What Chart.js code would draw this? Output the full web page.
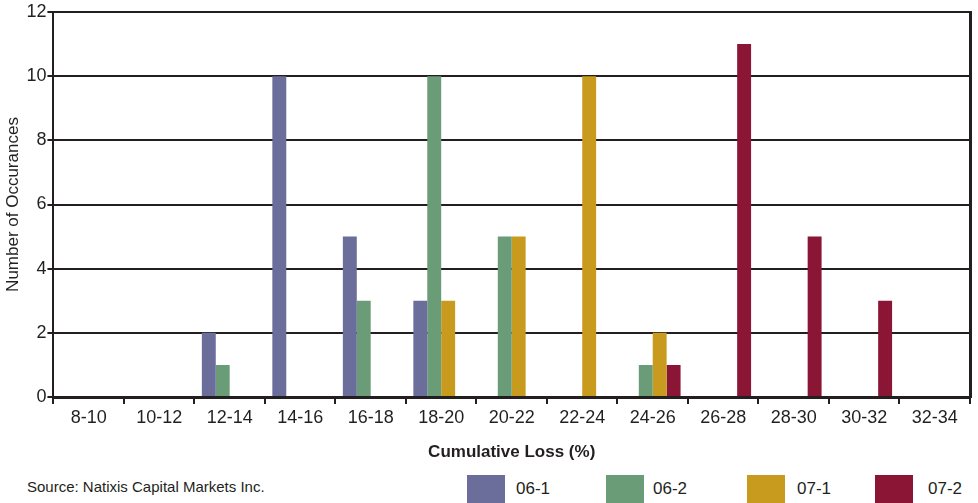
<!DOCTYPE html>
<html>
<head>
<meta charset="utf-8">
<script src="https://cdn.jsdelivr.net/npm/chart.js@4"></script>
<style>
  body { margin: 0; background: #fff; font-family: "Liberation Sans", Arial, sans-serif; }
  #wrap { position: relative; width: 978px; height: 503px; overflow: hidden; }
  #box { position: absolute; left: 0; top: 0; width: 978px; height: 465px; }
  .src { position: absolute; left: 27px; top: 478px; font-size: 15px; color: #231f20; }
  .leg { position: absolute; top: 475px; height: 28px; }
  .leg span.sw { position: absolute; left: 0; top: 0; width: 38px; height: 28px; }
  .leg span.tx { position: absolute; top: 4px; font-size: 17px; color: #231f20; white-space: nowrap; }
</style>
</head>
<body>
<div id="wrap">
  <div id="box"><canvas id="graph"></canvas></div>
  <div class="src">Source: Natixis Capital Markets Inc.</div>
  <div id="legend"></div>
</div>
<script>
/* Cumulative loss distribution by vintage */

var categories = ["8-10", "10-12", "12-14", "14-16", "16-18", "18-20", "20-22",
                  "22-24", "24-26", "26-28", "28-30", "30-32", "32-34"];
var seriesNames = ["06-1", "06-2", "07-1", "07-2"];
var seriesColors = ["#6b6d9b", "#6a9c77", "#c89b1e", "#8a1535"];

var s061 = [0, 0, 2, 10, 5, 3, 0, 0, 0, 0, 0, 0, 0];
var s062 = [0, 0, 1, 0, 3, 10, 5, 0, 1, 0, 0, 0, 0];
var s071 = [0, 0, 0, 0, 0, 3, 5, 10, 2, 0, 0, 0, 0];
var s072 = [0, 0, 0, 0, 0, 0, 0, 0, 1, 11, 5, 3, 0];

var yTicks = [0, 2, 4, 6, 8, 10, 12];

var allSeries = [s061, s062, s071, s072];
var datasets = [];
for (var i = 0; i < allSeries.length; i++) {
	datasets.push({
		label: seriesNames[i],
		data: allSeries[i],
		backgroundColor: seriesColors[i],
		borderWidth: 0,
		categoryPercentage: 0.79,
		barPercentage: 1.0
	});
}

// legend, laid out like the original (boxes along the bottom)
var legPos = [[467, 516], [606, 653], [747, 797], [875, 928]];
var legend = document.getElementById("legend");
for (var k = 0; k < seriesNames.length; k++) {
	var d = document.createElement("div");
	d.className = "leg";
	d.style.left = legPos[k][0] + "px";
	d.innerHTML = '<span class="sw" style="background:' + seriesColors[k] + '"></span>' +
		'<span class="tx" style="left:' + (legPos[k][1] - legPos[k][0]) + 'px">' + seriesNames[k] + '</span>';
	legend.appendChild(d);
}

var ink = "#231f20";
var fam = "'Liberation Sans', Arial, sans-serif";

var ctx = document.getElementById("graph").getContext("2d");
var chart = new Chart(ctx, {
	type: "bar",
	data: { labels: categories, datasets: datasets },
	options: {
		responsive: true,
		maintainAspectRatio: false,
		animation: false,
		layout: { padding: { top: 12, right: 0, left: 3, bottom: 0 } },
		plugins: {
			legend: { display: false },
			tooltip: { enabled: false }
		},
		scales: {
			x: {
				grid: { drawOnChartArea: false, drawTicks: true, tickLength: 7, color: ink, lineWidth: 2, offset: true },
				border: { color: ink, width: 3 },
				ticks: { color: ink, font: { family: fam, size: 18 }, padding: 3, maxRotation: 0, autoSkip: false },
				title: { display: true, text: "Cumulative Loss (%)", color: ink,
					font: { family: fam, size: 17, weight: "bold" }, padding: { top: 11, bottom: 2 } }
			},
			y: {
				min: 0, max: 12,
				afterBuildTicks: function(axis) {
					axis.ticks = yTicks.map(function(v) { return { value: v }; });
				},
				grid: { color: ink, lineWidth: 2, tickLength: 6 },
				border: { color: ink, width: 2 },
				ticks: { color: ink, font: { family: fam, size: 18 }, padding: 1 },
				title: { display: true, text: "Number of Occurances", color: ink,
					font: { family: fam, size: 17 }, padding: { top: 0, bottom: 2 } }
			},
			y2: {
				position: "right",
				min: 0, max: 12,
				grid: { display: false },
				border: { color: ink, width: 3 },
				ticks: { display: false }
			}
		}
	}
});
</script>
</body>
</html>
